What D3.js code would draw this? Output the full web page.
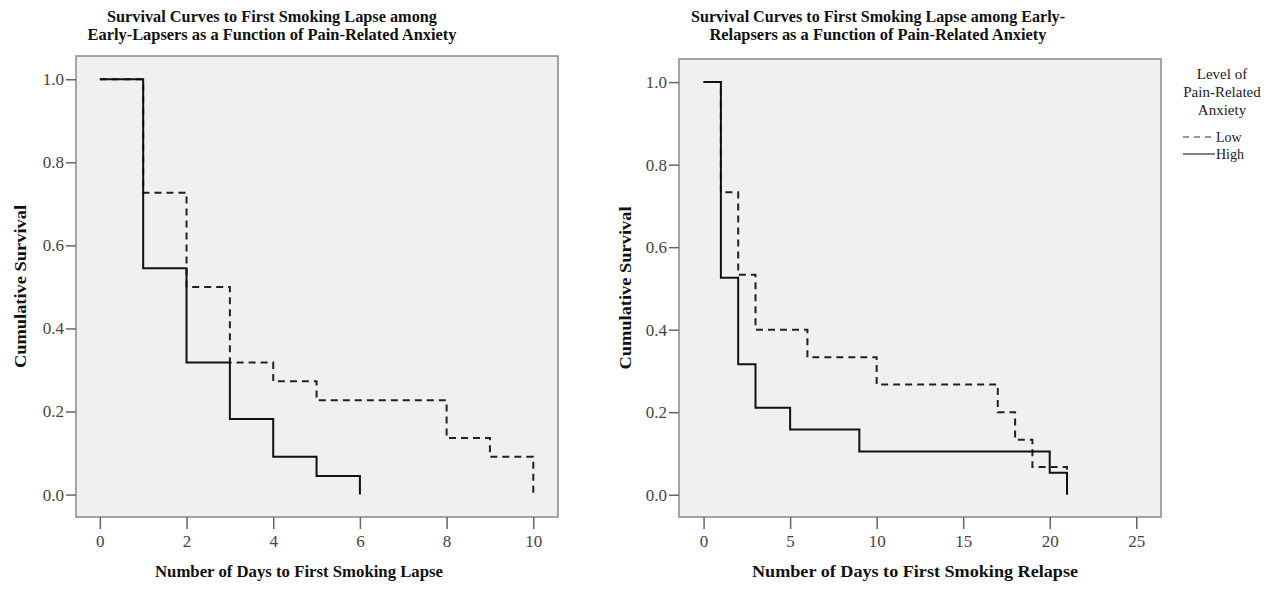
<!DOCTYPE html>
<html>
<head>
<meta charset="utf-8">
<script src="https://cdn.jsdelivr.net/npm/d3@7/dist/d3.min.js"></script>
<style>
  body { margin: 0; background: #fff; }
  svg { display: block; }
  .tick text { font-family: "Liberation Serif", "DejaVu Serif", serif; font-size: 17px; fill: #444; }
  .tick line { stroke: #666; stroke-width: 1.5; }
</style>
</head>
<body>
<div id="chart"></div>
<script>
// Kaplan-Meier survival values
var leftHighDays = [0, 1, 2, 3, 4, 5, 6];
var leftHighSurv = [1, 0.545, 0.318, 0.182, 0.091, 0.045, 0];
var leftLowDays = [0, 1, 2, 3, 4, 5, 8, 9, 10];
var leftLowSurv = [1, 0.727, 0.5, 0.318, 0.273, 0.227, 0.136, 0.091, 0];

var rightHighDays = [0, 1, 2, 3, 5, 9, 20, 21];
var rightHighSurv = [1, 0.526, 0.316, 0.211, 0.158, 0.105, 0.053, 0];
var rightLowDays = [0, 1, 2, 3, 6, 10, 17, 18, 19, 21];
var rightLowSurv = [1, 0.733, 0.533, 0.4, 0.333, 0.267, 0.2, 0.133, 0.067, 0];

var yTicks = [0, 0.2, 0.4, 0.6, 0.8, 1.0];
var leftXTicks = [0, 2, 4, 6, 8, 10];
var rightXTicks = [0, 5, 10, 15, 20, 25];

var leftTitle = ["Survival Curves to First Smoking Lapse among", "Early-Lapsers as a Function of Pain-Related Anxiety"];
var rightTitle = ["Survival Curves to First Smoking Lapse among Early-", "Relapsers as a Function of Pain-Related Anxiety"];
var legendTitle = ["Level of", "Pain-Related", "Anxiety"];
var legendLabels = ["Low", "High"];

var serif = '"Liberation Serif", "DejaVu Serif", serif';

var svg = d3.select("#chart")
    .append("svg")
    .attr("width", 1286)
    .attr("height", 591);

function zip(days, surv) {
    return days.map(function (d, i) { return { day: d, surv: surv[i] }; });
}

function boldText(x, y, str, len) {
    return svg.append("text")
        .attr("x", x)
        .attr("y", y)
        .attr("text-anchor", "middle")
        .attr("font-family", serif)
        .attr("font-weight", "bold")
        .attr("font-size", "16px")
        .attr("fill", "#111")
        .attr("textLength", len)
        .attr("lengthAdjust", "spacingAndGlyphs")
        .text(str);
}

function drawPanel(p) {
    var x = d3.scaleLinear().domain(p.xDomain).range([p.x0, p.x1]);
    var y = d3.scaleLinear().domain([-0.054, 1.056]).range([p.y1, p.y0]);

    svg.append("rect")
        .attr("x", p.x0)
        .attr("y", p.y0)
        .attr("width", p.x1 - p.x0)
        .attr("height", p.y1 - p.y0)
        .attr("fill", "#f0f0f0")
        .attr("stroke", "#888")
        .attr("stroke-width", 1.5);

    var yAxis = svg.append("g")
        .attr("transform", `translate(${p.x0}, 0)`)
        .call(d3.axisLeft(y).tickValues(yTicks).tickFormat(d3.format(".1f")).tickSize(10).tickPadding(2));
    yAxis.select(".domain").remove();

    var xAxis = svg.append("g")
        .attr("transform", `translate(0, ${p.y1})`)
        .call(d3.axisBottom(x).tickValues(p.xTicks).tickSize(12).tickPadding(6));
    xAxis.select(".domain").remove();

    var line = d3.line()
        .x(function (d) { return x(d.day); })
        .y(function (d) { return y(d.surv); })
        .curve(d3.curveStepAfter);

    // dashed (low) first, solid (high) on top
    svg.append("path")
        .datum(zip(p.lowDays, p.lowSurv))
        .attr("d", line)
        .attr("fill", "none")
        .attr("stroke", "#222")
        .attr("stroke-width", 2)
        .attr("stroke-dasharray", "7,5");

    svg.append("path")
        .datum(zip(p.highDays, p.highSurv))
        .attr("d", line)
        .attr("fill", "none")
        .attr("stroke", "#111")
        .attr("stroke-width", 2);

    // title, two lines
    boldText(p.titleX, 22, p.title[0], p.titleLen[0]);
    boldText(p.titleX, 40, p.title[1], p.titleLen[1]);

    // axis labels
    boldText(p.xLabelX, 577, p.xLabel, p.xLabelLen);

    boldText(0, 0, "Cumulative Survival", 163)
        .attr("transform", `translate(${p.yLabelX}, ${(p.y0 + p.y1) / 2}) rotate(-90)`);
}

drawPanel({
    x0: 76, x1: 558, y0: 56, y1: 517,
    xDomain: [-0.55, 10.57],
    xTicks: leftXTicks,
    highDays: leftHighDays, highSurv: leftHighSurv,
    lowDays: leftLowDays, lowSurv: leftLowSurv,
    title: leftTitle, titleX: 272, titleLen: [330, 369],
    xLabel: "Number of Days to First Smoking Lapse", xLabelX: 299, xLabelLen: 288,
    yLabelX: 26
});

drawPanel({
    x0: 679, x1: 1161, y0: 59, y1: 517,
    xDomain: [-1.42, 26.43],
    xTicks: rightXTicks,
    highDays: rightHighDays, highSurv: rightHighSurv,
    lowDays: rightLowDays, lowSurv: rightLowSurv,
    title: rightTitle, titleX: 878, titleLen: [374, 337],
    xLabel: "Number of Days to First Smoking Relapse", xLabelX: 915, xLabelLen: 326,
    yLabelX: 631
});

// legend
var legend = svg.append("g");
legend.append("text")
    .attr("x", 1222)
    .attr("y", 79)
    .attr("text-anchor", "middle")
    .attr("font-family", serif)
    .attr("font-size", "15px")
    .attr("fill", "#222")
    .selectAll("tspan")
    .data(legendTitle)
    .enter()
    .append("tspan")
    .attr("x", 1222)
    .attr("dy", function (d, i) { return i === 0 ? 0 : 18; })
    .text(function (d) { return d; });

legendLabels.forEach(function (lab, i) {
    var ly = 137 + i * 17;
    legend.append("line")
        .attr("x1", 1183)
        .attr("x2", 1215)
        .attr("y1", ly)
        .attr("y2", ly)
        .attr("stroke", "#333")
        .attr("stroke-width", 1.2)
        .attr("stroke-dasharray", i === 0 ? "6,5" : null);
    legend.append("text")
        .attr("x", 1216)
        .attr("y", ly + 5)
        .attr("font-family", serif)
        .attr("font-size", "14px")
        .attr("fill", "#222")
        .text(lab);
});
</script>
</body>
</html>
